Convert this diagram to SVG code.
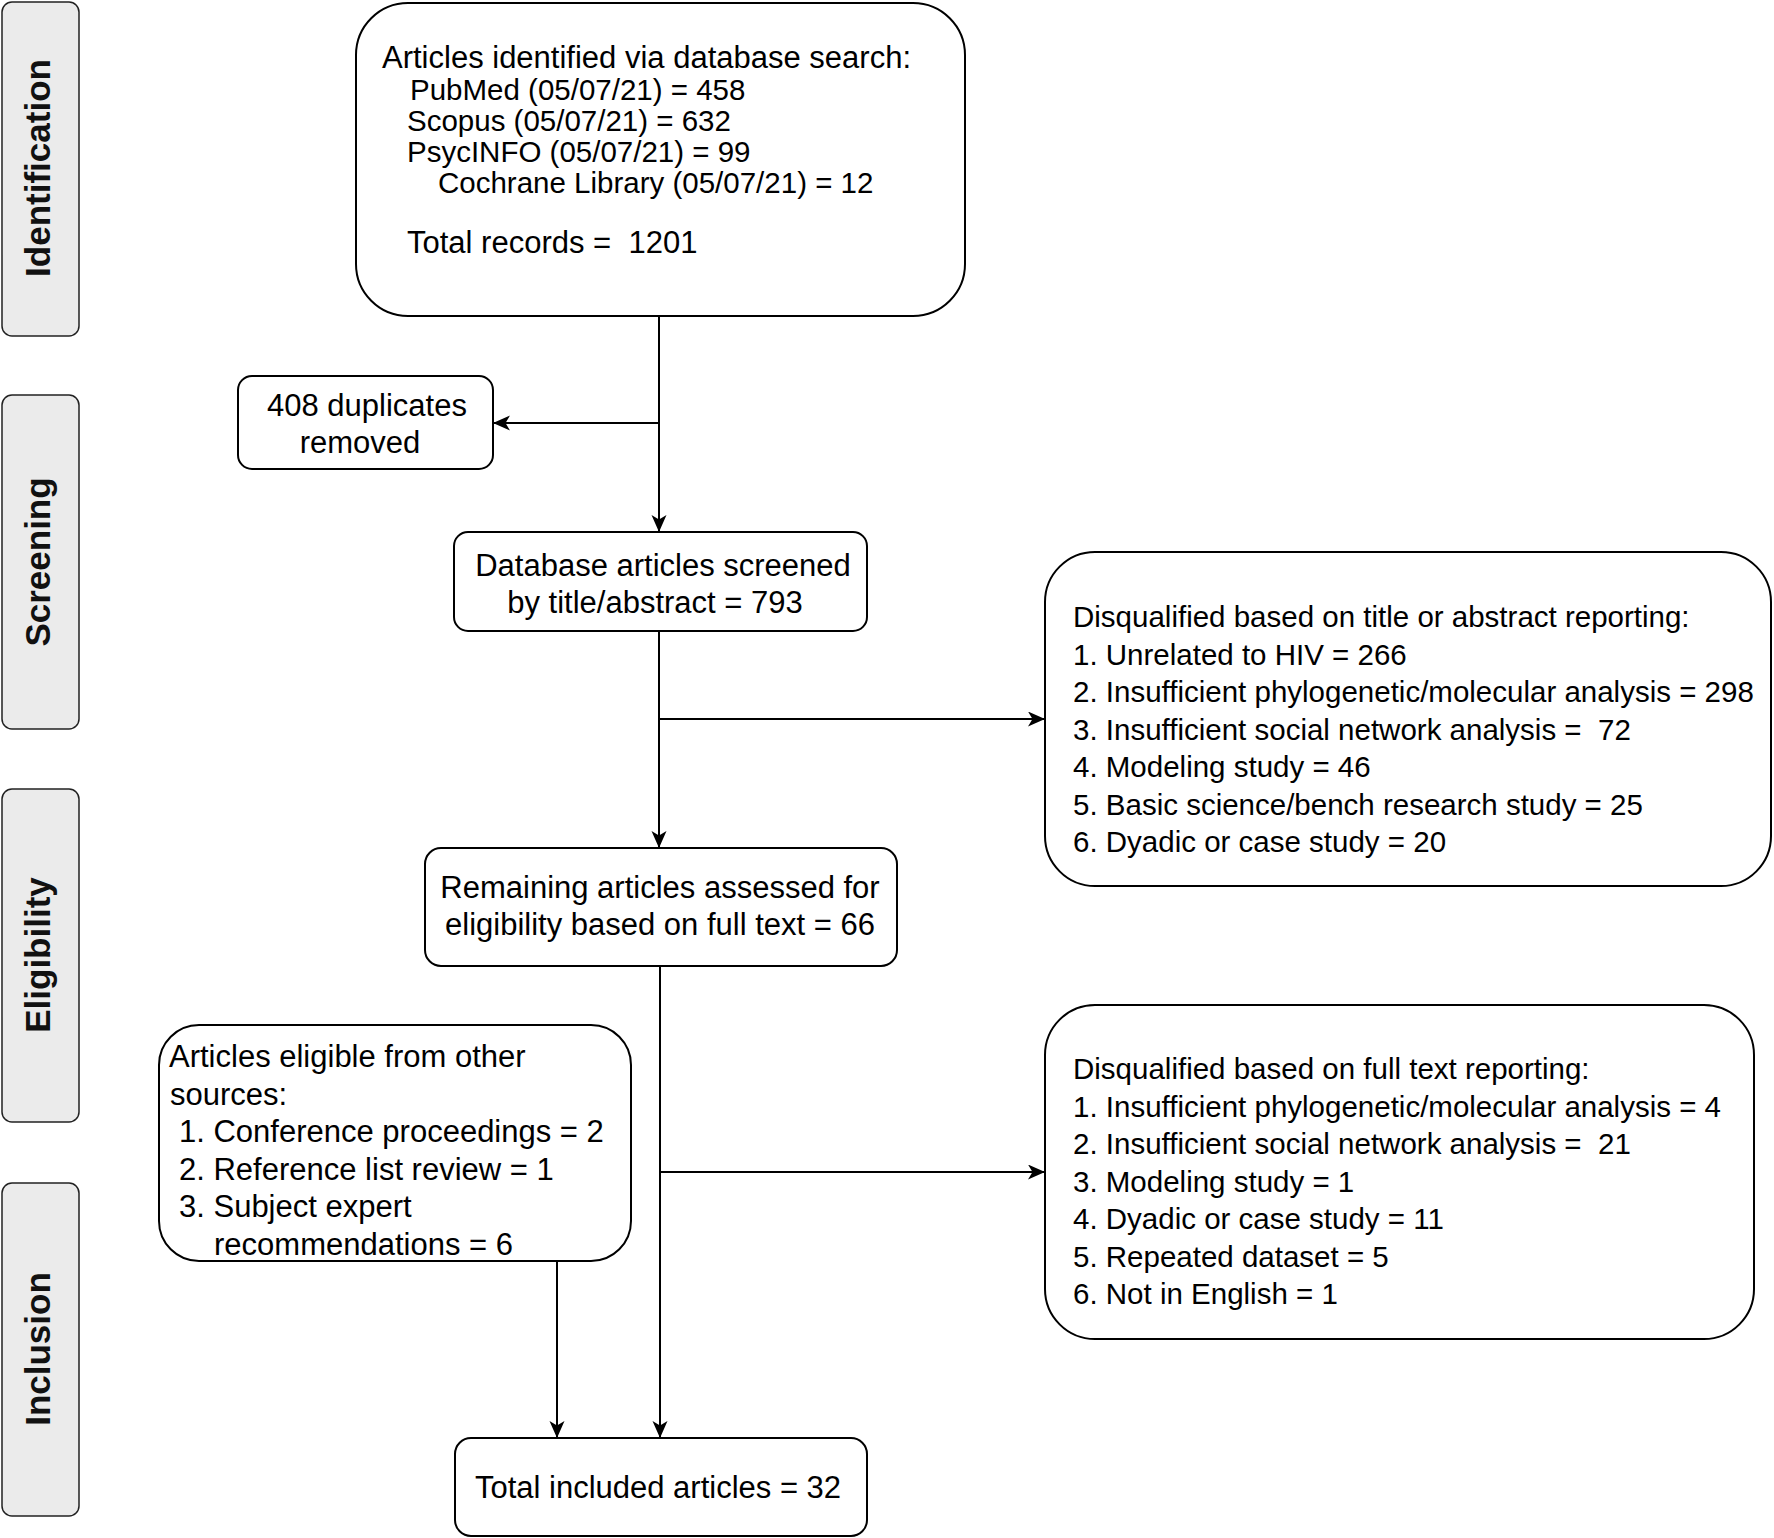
<svg xmlns="http://www.w3.org/2000/svg" width="1774" height="1538" viewBox="0 0 1774 1538">
<style>
.box{fill:#ffffff;stroke:#000000;stroke-width:2}
.phase{fill:#ebebeb;stroke:#222222;stroke-width:1.5}
.t{font-family:"Liberation Sans",Arial,Helvetica,sans-serif;fill:#000000}
.s31{font-size:31px}
.s295{font-size:29.5px}
.mid{text-anchor:middle}
.lab{font-family:"Liberation Sans",Arial,Helvetica,sans-serif;font-weight:bold;font-size:35px;text-anchor:middle;fill:#111111}
.edge{fill:none;stroke:#000000;stroke-width:2}
</style>
<defs>
<marker id="arr" markerUnits="userSpaceOnUse" markerWidth="18" markerHeight="16" refX="17" refY="7.5" orient="auto">
<path d="M0,0 L17,7.5 L0,15 L4.5,7.5 Z" fill="#000000"/>
</marker>
</defs>
<rect width="1774" height="1538" fill="#ffffff"/>

<g id="phase-identification">
<rect class="phase" x="2" y="2" width="77" height="334" rx="10"/>
<text class="lab" transform="translate(50,168) rotate(-90)">Identification</text>
</g>
<g id="phase-screening">
<rect class="phase" x="2" y="395" width="77" height="334" rx="10"/>
<text class="lab" transform="translate(50,562) rotate(-90)">Screening</text>
</g>
<g id="phase-eligibility">
<rect class="phase" x="2" y="789" width="77" height="333" rx="10"/>
<text class="lab" transform="translate(50,955) rotate(-90)">Eligibility</text>
</g>
<g id="phase-inclusion">
<rect class="phase" x="2" y="1183" width="77" height="333" rx="10"/>
<text class="lab" transform="translate(50,1349) rotate(-90)">Inclusion</text>
</g>

<g id="connectors">
<path class="edge" d="M659,316 V532" marker-end="url(#arr)"/>
<path class="edge" d="M659,423 H493" marker-end="url(#arr)"/>
<path class="edge" d="M659,631 V848" marker-end="url(#arr)"/>
<path class="edge" d="M659,719 H1045" marker-end="url(#arr)"/>
<path class="edge" d="M660,966 V1438" marker-end="url(#arr)"/>
<path class="edge" d="M660,1172 H1045" marker-end="url(#arr)"/>
<path class="edge" d="M557,1261 V1438" marker-end="url(#arr)"/>
</g>

<g id="node-identified">
<rect class="box" x="356" y="3" width="609" height="313" rx="52"/>
<text class="t s31" x="382" y="68">Articles identified via database search:</text>
<text class="t s295" x="410" y="99.5">PubMed (05/07/21) = 458</text>
<text class="t s295" x="407" y="130.5">Scopus (05/07/21) = 632</text>
<text class="t s295" x="407" y="161.5">PsycINFO (05/07/21) = 99</text>
<text class="t s295" x="438" y="193">Cochrane Library (05/07/21) = 12</text>
<text class="t s31" x="407" y="253" xml:space="preserve">Total records =  1201</text>
</g>

<g id="node-duplicates">
<rect class="box" x="238" y="376" width="255" height="93" rx="14"/>
<text class="t s31 mid" x="367" y="416">408 duplicates</text>
<text class="t s31 mid" x="360" y="453">removed</text>
</g>

<g id="node-screened">
<rect class="box" x="454" y="532" width="413" height="99" rx="14"/>
<text class="t s31 mid" x="663" y="576">Database articles screened</text>
<text class="t s31 mid" x="655" y="613">by title/abstract = 793</text>
</g>

<g id="node-excluded-title">
<rect class="box" x="1045" y="552" width="726" height="334" rx="50"/>
<text class="t s295" x="1073" y="627">Disqualified based on title or abstract reporting:</text>
<text class="t s295" x="1073" y="664.5">1. Unrelated to HIV = 266</text>
<text class="t s295" x="1073" y="702">2. Insufficient phylogenetic/molecular analysis = 298</text>
<text class="t s295" x="1073" y="739.5" xml:space="preserve">3. Insufficient social network analysis =  72</text>
<text class="t s295" x="1073" y="777">4. Modeling study = 46</text>
<text class="t s295" x="1073" y="814.5">5. Basic science/bench research study = 25</text>
<text class="t s295" x="1073" y="852">6. Dyadic or case study = 20</text>
</g>

<g id="node-fulltext">
<rect class="box" x="425" y="848" width="472" height="118" rx="16"/>
<text class="t s31 mid" x="660" y="898">Remaining articles assessed for</text>
<text class="t s31 mid" x="660" y="935">eligibility based on full text = 66</text>
</g>

<g id="node-other-sources">
<rect class="box" x="159" y="1025" width="472" height="236" rx="40"/>
<text class="t s31" x="169" y="1067">Articles eligible from other</text>
<text class="t s31" x="170" y="1104.5">sources:</text>
<text class="t s31" x="179" y="1142">1. Conference proceedings = 2</text>
<text class="t s31" x="179" y="1179.5">2. Reference list review = 1</text>
<text class="t s31" x="179" y="1217">3. Subject expert</text>
<text class="t s31" x="214" y="1254.5">recommendations = 6</text>
</g>

<g id="node-excluded-fulltext">
<rect class="box" x="1045" y="1005" width="709" height="334" rx="50"/>
<text class="t s295" x="1073" y="1079">Disqualified based on full text reporting:</text>
<text class="t s295" x="1073" y="1116.5">1. Insufficient phylogenetic/molecular analysis = 4</text>
<text class="t s295" x="1073" y="1154" xml:space="preserve">2. Insufficient social network analysis =  21</text>
<text class="t s295" x="1073" y="1191.5">3. Modeling study = 1</text>
<text class="t s295" x="1073" y="1229">4. Dyadic or case study = 11</text>
<text class="t s295" x="1073" y="1266.5">5. Repeated dataset = 5</text>
<text class="t s295" x="1073" y="1304">6. Not in English = 1</text>
</g>

<g id="node-included">
<rect class="box" x="455" y="1438" width="412" height="98" rx="16"/>
<text class="t s31 mid" x="658" y="1498">Total included articles = 32</text>
</g>
</svg>
